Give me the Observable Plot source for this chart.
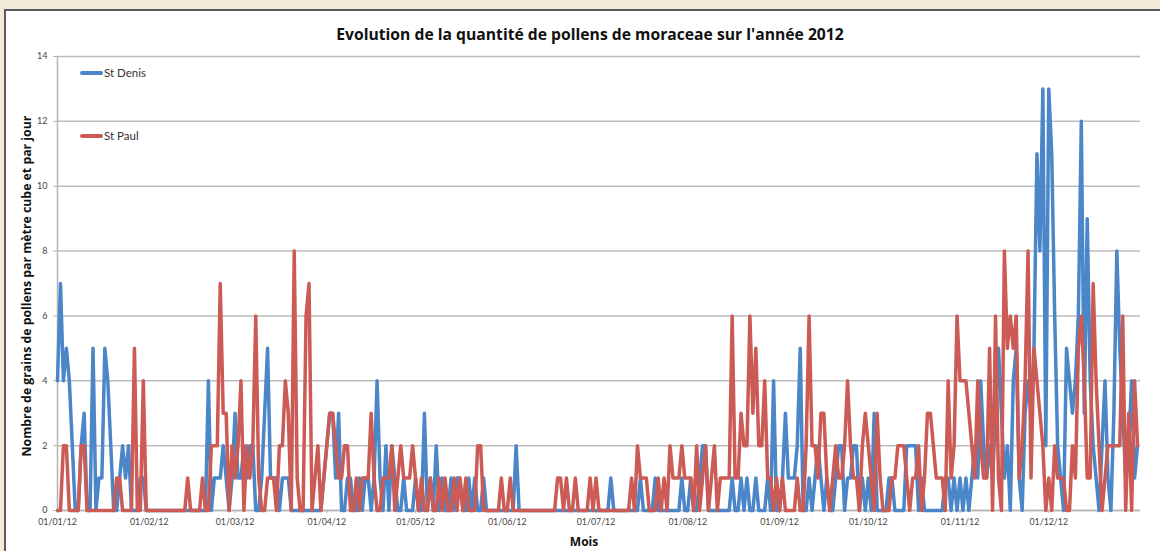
<!DOCTYPE html>
<html>
<head>
<meta charset="utf-8">
<script src="https://cdn.jsdelivr.net/npm/d3@7"></script>
<script src="https://cdn.jsdelivr.net/npm/@observablehq/plot@0.6"></script>
<style>
  html, body { margin: 0; padding: 0; }
  body { width: 1160px; height: 551px; background: #f3eadb; position: relative; overflow: hidden; font-family: Lato, "Open Sans", sans-serif; }
  #panel { position: absolute; left: 4px; top: 9px; right: -2px; bottom: -10px; background: #fff; border-left: 2px solid #5c5c5c; border-top: 2px solid #5c5c5c; }
  #title { position: absolute; left: 0; width: 1180px; top: 23px; text-align: center; font-family: "Open Sans", sans-serif; font-weight: bold; font-size: 15.7px; color: #111; }
  #chart { position: absolute; left: 0; top: 40px; }
  #ylabel { position: absolute; left: 26px; top: 286px; transform: translate(-50%, -50%) rotate(-90deg); white-space: nowrap; font-family: "Open Sans", sans-serif; font-weight: bold; font-size: 12.3px; color: #111; }
  #xlabel { position: absolute; left: 0; width: 1168px; top: 533px; text-align: center; font-family: "Open Sans", sans-serif; font-weight: bold; font-size: 12px; color: #111; }
  .leg { position: absolute; left: 80px; font-size: 11.5px; color: #333; display: flex; align-items: center; }
  .leg span.sw { display: inline-block; width: 23px; height: 4px; border-radius: 2px; margin-right: 1px; }
</style>
</head>
<body>
<div id="panel"></div>
<div id="title">Evolution de la quantité de pollens de moraceae sur l'année 2012</div>
<div id="chart"></div>
<div id="ylabel">Nombre de grains de pollens par mètre cube et par jour</div>
<div id="xlabel">Mois</div>
<div class="leg" style="top:66px"><span class="sw" style="background:#4a86c8"></span>St Denis</div>
<div class="leg" style="top:129px"><span class="sw" style="background:#cc5a55"></span>St Paul</div>
<script>
// Daily counts, St Denis (blue), month by month
const stDenisJan = [4,7,4,5,4,2,0,0,2,3,0,0,5,0,1,1,5,4,2,0,0,1,2,1,2,0,0,0,1,1,0];
const stDenisFeb = [0,0,0,0,0,0,0,0,0,0,0,0,0,0,0,0,0,0,0,0,4,0,1,1,1,2,1,0,1];
const stDenisMar = [3,1,1,2,1,2,2,0,0,1,3,5,1,1,1,0,1,1,1,0,0,0,0,0,0,0,0,0,0,0,1];
const stDenisApr = [2,3,3,1,3,0,0,1,1,0,0,1,0,1,1,0,1,4,1,0,2,0,2,1,0,0,1,0,0,0];
const stDenisMay = [1,0,0,3,0,1,0,2,0,1,0,0,1,0,1,1,0,0,1,0,1,0,0,1,0,0,0,0,0,0,0];
const stDenisJun = [0,0,0,2,0,0,0,0,0,0,0,0,0,0,0,0,0,0,0,0,0,0,0,0,0,0,0,0,0,0];
const stDenisJul = [0,0,0,0,0,1,0,0,0,0,0,0,0,0,0,1,0,0,0,0,1,0,0,0,0,0,0,0,0,1,0];
const stDenisAug = [0,1,0,0,1,2,2,0,0,0,0,0,0,0,0,1,0,0,1,0,1,0,0,1,0,0,0,1,0,4,0];
const stDenisSep = [0,1,3,1,1,1,2,5,0,0,1,0,1,2,1,0,1,0,0,1,2,2,0,1,1,2,2,0,1,0];
const stDenisOct = [1,0,3,0,0,0,0,1,1,0,0,0,0,2,2,2,2,0,1,0,0,0,0,0,0,0,1,1,0,1,0];
const stDenisNov = [1,0,1,0,1,2,1,4,2,1,2,1,3,5,3,1,2,0,4,5,1,0,3,4,3,5,11,8,13,2];
const stDenisDec = [13,11,6,2,1,0,5,4,3,4,6,12,3,9,4,2,1,0,2,4,1,0,3,8,5,3,1,2,4,1,2];

// Daily counts, St Paul (red), month by month
const stPaulJan = [0,0,2,2,0,0,0,0,2,2,0,0,0,0,0,0,0,0,0,0,1,1,0,0,0,0,5,0,0,4,0];
const stPaulFeb = [0,0,0,0,0,0,0,0,0,0,0,0,0,1,0,0,0,0,1,0,0,2,2,2,7,3,3,0,2];
const stPaulMar = [1,2,4,0,2,1,2,6,1,0,0,1,1,1,0,2,2,4,3,0,8,1,0,0,6,7,0,1,2,0,1];
const stPaulApr = [2,3,3,2,1,1,2,2,0,0,1,0,1,1,1,3,1,0,0,1,1,1,2,0,1,2,1,1,1,2];
const stPaulMay = [1,0,1,0,0,1,0,0,1,0,1,0,0,1,0,1,0,1,0,0,0,2,2,0,0,0,0,0,0,1,0];
const stPaulJun = [0,1,0,0,0,0,0,0,0,0,0,0,0,0,0,0,0,1,1,0,1,0,0,1,0,0,0,0,1,0];
const stPaulJul = [1,0,0,0,0,0,0,0,0,0,0,0,1,0,2,1,1,1,0,0,0,1,0,1,0,2,1,1,1,2,1];
const stPaulAug = [1,1,0,2,0,1,2,0,1,2,0,1,1,1,1,6,1,1,3,2,2,6,3,5,2,2,4,1,1,0,1];
const stPaulSep = [0,1,0,0,0,0,1,0,0,2,6,2,2,1,3,3,1,0,1,2,1,1,2,4,2,1,1,0,2,3];
const stPaulOct = [2,1,0,3,1,0,0,0,1,1,2,2,2,1,0,1,1,2,0,1,3,3,2,1,1,1,0,4,1,2,6];
const stPaulNov = [4,4,4,3,2,1,4,2,1,1,5,0,6,1,0,8,5,6,5,6,1,2,4,8,1,5,4,3,2,0];
const stPaulDec = [1,0,2,1,1,1,0,0,2,1,5,6,4,1,1,7,4,2,0,1,2,2,2,2,2,6,0,3,0,4,2];

const seriesNames = ["St Denis", "St Paul"];
const seriesColors = ["#4a86c8", "#cc5a55"];
const monthTicks = ["2012-01-01","2012-02-01","2012-03-01","2012-04-01","2012-05-01","2012-06-01",
                    "2012-07-01","2012-08-01","2012-09-01","2012-10-01","2012-11-01","2012-12-01"];
const yTicks = [0, 2, 4, 6, 8, 10, 12, 14];
const yearStart = "2012-01-01";
const yearEnd = "2013-01-01";

const stDenis = [stDenisJan, stDenisFeb, stDenisMar, stDenisApr, stDenisMay, stDenisJun,
                 stDenisJul, stDenisAug, stDenisSep, stDenisOct, stDenisNov, stDenisDec].flat();
const stPaul = [stPaulJan, stPaulFeb, stPaulMar, stPaulApr, stPaulMay, stPaulJun,
                stPaulJul, stPaulAug, stPaulSep, stPaulOct, stPaulNov, stPaulDec].flat();

const start = new Date(yearStart + "T00:00:00Z");
const rows = [];
[stDenis, stPaul].forEach((vals, s) => {
  vals.forEach((v, i) => rows.push({date: d3.utcDay.offset(start, i), value: v, series: seriesNames[s]}));
});
const tickDates = monthTicks.map(s => new Date(s + "T00:00:00Z"));

const chart = Plot.plot({
  width: 1160,
  height: 500,
  marginTop: 16,
  marginBottom: 30,
  marginLeft: 57,
  marginRight: 20,
  style: {fontFamily: "Lato, 'Open Sans', sans-serif", background: "transparent"},
  x: {type: "utc", domain: [start, new Date(yearEnd + "T00:00:00Z")]},
  y: {domain: [0, 14]},
  color: {domain: seriesNames, range: seriesColors},
  marks: [
    Plot.gridY(yTicks, {stroke: "#bdbdbd", strokeOpacity: 1, strokeWidth: 1.5}),
    Plot.ruleY([0], {stroke: "#b5b5b5", strokeWidth: 1.5}),
    Plot.ruleX([start], {stroke: "#b5b5b5", strokeWidth: 1.5}),
    Plot.axisY(yTicks, {tickSize: 4, tickPadding: 6, fontSize: 9, fill: "#444", stroke: "#b5b5b5", label: null}),
    Plot.axisX(tickDates, {tickSize: 3, tickPadding: 5, fontSize: 8.8, fill: "#444", stroke: "#b5b5b5",
      tickFormat: d3.utcFormat("%d/%m/%y"), label: null}),
    Plot.line(rows, {x: "date", y: "value", z: "series", stroke: "series", strokeWidth: 3.5,
      strokeLinejoin: "round", strokeLinecap: "round", curve: "linear"})
  ]
});
document.getElementById("chart").appendChild(chart);
</script>
</body>
</html>
